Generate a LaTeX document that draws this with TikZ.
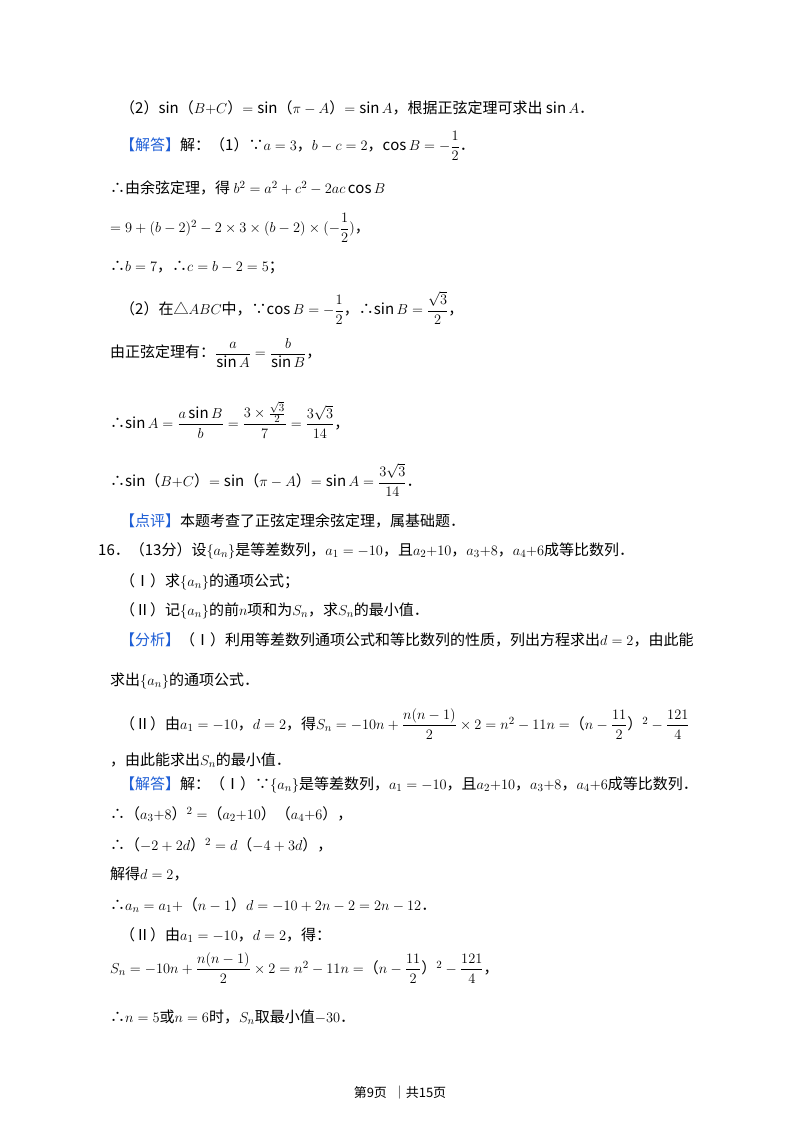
\documentclass[tikz,border=0pt]{standalone}
\usepackage{amsmath}
\usepackage{fontspec}
\setmainfont{Noto Sans CJK SC}
\newfontfamily\lat{Liberation Serif}
\definecolor{hd}{HTML}{1F5FD6}
\newcommand\hdr[1]{{\color{hd}【#1】}}
\tikzset{ln/.style={anchor=west,inner sep=0pt,font=\fontsize{15}{18}\selectfont}}
\begin{document}
\begin{tikzpicture}[x=1pt,y=-1pt]
\useasboundingbox[fill=white] (0,0) rectangle (800,1132);
\node[ln] (l1) at (120,108) {（2）$\sin$（$B{+}C$）$=\sin$（$\pi-A$）$=\sin A$，根据正弦定理可求出 $\sin A$．};
\node[ln] (l2) at (120,146) {\hdr{解答}解：（1）∵$a=3$，$b-c=2$，$\cos B=-\dfrac12$．};
\node[ln] (l3) at (110,188) {∴由余弦定理，得 $b^2=a^2+c^2-2ac\cos B$};
\node[ln] (l4) at (110,228) {$=9+(b-2)^2-2\times3\times(b-2)\times(-\dfrac12)$，};
\node[ln] (l5) at (110,268) {∴$b=7$，∴$c=b-2=5$；};
\node[ln] (l6) at (120,308) {（2）在△$ABC$中，∵$\cos B=-\dfrac12$，∴$\sin B=\dfrac{\sqrt3}{2}$，};
\node[ln] (l7) at (110,353) {由正弦定理有：$\dfrac{a}{\sin A}=\dfrac{b}{\sin B}$，};
\node[ln] (l8) at (110,420) {∴$\sin A=\dfrac{a\sin B}{b}=\dfrac{3\times\frac{\sqrt3}{2}}{7}=\dfrac{3\sqrt3}{14}$，};
\node[ln] (l9) at (110,480) {∴$\sin$（$B{+}C$）$=\sin$（$\pi-A$）$=\sin A=\dfrac{3\sqrt3}{14}$．};
\node[ln] (l10) at (120,521) {\hdr{点评}本题考查了正弦定理余弦定理，属基础题．};
\node[ln] (l11) at (98,551) {16．（13分）设$\{a_n\}$是等差数列，$a_1=-10$，且$a_2{+}10$，$a_3{+}8$，$a_4{+}6$成等比数列．};
\node[ln] (l12) at (120,582) {（Ⅰ）求$\{a_n\}$的通项公式；};
\node[ln] (l13) at (120,611) {（Ⅱ）记$\{a_n\}$的前$n$项和为$S_n$，求$S_n$的最小值．};
\node[ln] (l14) at (120,640) {\hdr{分析}（Ⅰ）利用等差数列通项公式和等比数列的性质，列出方程求出$d=2$，由此能};
\node[ln] (l15) at (110,681) {求出$\{a_n\}$的通项公式．};
\node[ln] (l16) at (120,724) {（Ⅱ）由$a_1=-10$，$d=2$，得$S_n=-10n+\dfrac{n(n-1)}{2}\times2=n^2-11n=$（$n-\dfrac{11}{2}$）$^2-\dfrac{121}{4}$};
\node[ln] (l17) at (110,760) {，由此能求出$S_n$的最小值．};
\node[ln] (l18) at (120,785) {\hdr{解答}解：（Ⅰ）∵$\{a_n\}$是等差数列，$a_1=-10$，且$a_2{+}10$，$a_3{+}8$，$a_4{+}6$成等比数列．};
\node[ln] (l19) at (110,814) {∴（$a_3{+}8$）$^2=$（$a_2{+}10$）（$a_4{+}6$），};
\node[ln] (l20) at (110,845) {∴（$-2+2d$）$^2=d$（$-4+3d$），};
\node[ln] (l21) at (110,874) {解得$d=2$，};
\node[ln] (l22) at (110,905) {∴$a_n=a_1+$（$n-1$）$d=-10+2n-2=2n-12$．};
\node[ln] (l23) at (120,935) {（Ⅱ）由$a_1=-10$，$d=2$，得：};
\node[ln] (l24) at (110,968) {$S_n=-10n+\dfrac{n(n-1)}{2}\times2=n^2-11n=$（$n-\dfrac{11}{2}$）$^2-\dfrac{121}{4}$，};
\node[ln] (l25) at (110,1017) {∴$n=5$或$n=6$时，$S_n$取最小值$-30$．};
\node[anchor=center,inner sep=0pt,font=\fontsize{13}{15}\selectfont] (ft) at (400,1093) {第9页 \ ｜共15页};
\end{tikzpicture}
\end{document}
